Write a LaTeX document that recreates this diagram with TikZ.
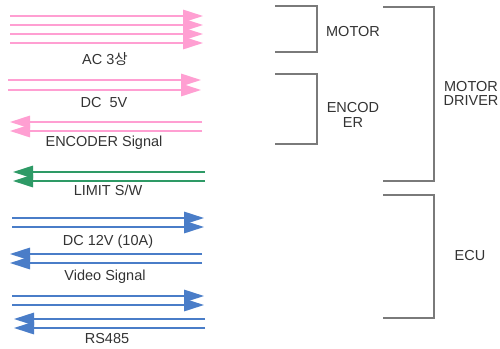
\documentclass[tikz,border=0pt]{standalone}
\usepackage{fontspec}
\setmainfont{Liberation Sans}
\newfontfamily\krfont{Noto Sans CJK KR}
\usetikzlibrary{arrows.meta}

\definecolor{sigpink}{HTML}{FF9FD2}
\definecolor{siggreen}{HTML}{2E9A66}
\definecolor{sigblue}{HTML}{4A7DC8}
\definecolor{brgray}{HTML}{7A7A7A}

\tikzset{
  sig/.style={line width=1.6pt,-{Triangle[length=20pt,width=12.5pt]}},
  pinksig/.style={sig,sigpink},
  greensig/.style={sig,siggreen},
  bluesig/.style={sig,sigblue},
  siglabel/.style={inner sep=0pt,font=\fontsize{14.5}{16}\selectfont,text=black!80},
  bracket/.style={brgray,line width=1.4pt}
}

\begin{document}
\begin{tikzpicture}[x=1pt,y=-1pt]

\useasboundingbox (0,0) rectangle (500,348);

%====================================================
% Power and signal lines
%====================================================

% AC 3 phase
\foreach \y in {16,25,34,43}
  \draw[pinksig] (10,\y)--(203,\y);
\node[siglabel] (ac) at (105,59) {AC 3{\krfont 상}};

% DC 5V
\foreach \y in {80,90}
  \draw[pinksig] (8,\y)--(201,\y);
\node[siglabel] (dcfive) at (104,103) {DC \ 5V};

% Encoder signal
\foreach \y in {122,131}
  \draw[pinksig] (202,\y)--(10,\y);
\node[siglabel] (enc) at (104,143) {ENCODER Signal};

% Limit switch
\foreach \y in {172,181}
  \draw[greensig] (205,\y)--(13,\y);
\node[siglabel] (limit) at (108,190) {LIMIT S/W};

% DC 12V
\foreach \y in {218,227}
  \draw[bluesig] (12,\y)--(204,\y);
\node[siglabel] (dctwelve) at (108,242) {DC 12V (10A)};

% Video signal
\foreach \y in {254,263}
  \draw[bluesig] (202,\y)--(10,\y);
\node[siglabel] (video) at (105,277) {Video Signal};

% RS485
\foreach \y in {296,305}
  \draw[bluesig] (12,\y)--(204,\y);
\foreach \y in {319,328}
  \draw[bluesig] (205,\y)--(14,\y);
\node[siglabel] (rs) at (107,339) {RS485};

%====================================================
% Units
%====================================================

% Motor
\draw[bracket] (275,6) -| (317,52) -- (275,52);
\node[siglabel] (motor) at (353,32) {MOTOR};

% Encoder
\draw[bracket] (275,74) -| (317,144) -- (275,144);
\node[siglabel,align=center] (encoder) at (353,115) {ENCOD\\[-1pt]ER};

% Motor driver
\draw[bracket] (383,7) -| (434,181) -- (383,181);
\node[siglabel,align=center] (driver) at (471,93) {MOTOR\\[-2pt]DRIVER};

% ECU
\draw[bracket] (383,195) -| (434,318) -- (383,318);
\node[siglabel] (ecu) at (470,256) {ECU};

\end{tikzpicture}
\end{document}
